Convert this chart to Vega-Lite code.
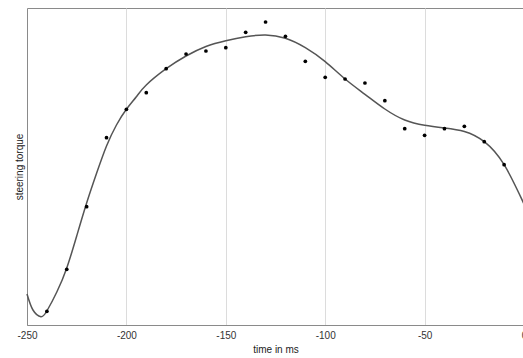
{
  "$schema": "https://vega.github.io/schema/vega-lite/v6.json",
  "width": 497,
  "height": 317,
  "padding": {"left": 14, "top": 8, "right": 0, "bottom": 0},
  "config": {
    "font": "Liberation Sans",
    "view": {"stroke": "#8a8a8a", "strokeWidth": 1},
    "axis": {"labelFont": "Liberation Sans", "titleFont": "Liberation Sans", "labelFontSize": 10, "titleFontSize": 10, "titleFontWeight": "normal", "labelColor": "#333", "titleColor": "#222", "domainColor": "#8a8a8a"}
  },
  "datasets": {
    "pts": [
      {"t": -240, "v": 13.7}, {"t": -230, "v": 55.7}, {"t": -220, "v": 118.3}, {"t": -210, "v": 187.3},
      {"t": -200, "v": 215.7}, {"t": -190, "v": 232.3}, {"t": -180, "v": 256.3}, {"t": -170, "v": 271},
      {"t": -160, "v": 274}, {"t": -150, "v": 277.3}, {"t": -140, "v": 292.7}, {"t": -130, "v": 303},
      {"t": -120, "v": 288.7}, {"t": -110, "v": 263.7}, {"t": -100, "v": 247.7}, {"t": -90, "v": 246},
      {"t": -80, "v": 242}, {"t": -70, "v": 224.3}, {"t": -60, "v": 196.3}, {"t": -50, "v": 189.7},
      {"t": -40, "v": 196.3}, {"t": -30, "v": 198.7}, {"t": -20, "v": 183.3}, {"t": -10, "v": 160.3}
    ],
    "fit": [
      {"t": -250, "v": 31}, {"t": -247, "v": 15}, {"t": -243, "v": 8.3}, {"t": -240, "v": 14},
      {"t": -235, "v": 33}, {"t": -230, "v": 57}, {"t": -225, "v": 89}, {"t": -220, "v": 122},
      {"t": -215, "v": 151.7}, {"t": -210, "v": 179}, {"t": -205, "v": 200}, {"t": -200, "v": 215.7},
      {"t": -195, "v": 228.3}, {"t": -190, "v": 240}, {"t": -180, "v": 256.3}, {"t": -170, "v": 269}, {"t": -160, "v": 278.5},
      {"t": -150, "v": 284.3}, {"t": -140, "v": 288.3}, {"t": -130, "v": 290}, {"t": -120, "v": 286.7},
      {"t": -110, "v": 277.3}, {"t": -100, "v": 263.3}, {"t": -90, "v": 246}, {"t": -80, "v": 230.7},
      {"t": -70, "v": 216}, {"t": -60, "v": 205}, {"t": -50, "v": 199.7}, {"t": -40, "v": 197},
      {"t": -30, "v": 193.5}, {"t": -20, "v": 183.3}, {"t": -10, "v": 160.3}, {"t": 0, "v": 121}
    ]
  },
  "layer": [
    {
      "data": {"name": "fit"},
      "mark": {"type": "line", "color": "#555555", "strokeWidth": 1.5, "interpolate": "natural"},
      "encoding": {
        "x": {"field": "t", "type": "quantitative", "scale": {"domain": [-250, 0], "nice": false},
              "axis": {"values": [-250, -200, -150, -100, -50, 0], "labelExpr": "'' + datum.value", "title": "time in ms", "grid": true, "gridColor": "#dcdcdc", "ticks": false, "labelPadding": 5, "titlePadding": 4, "labelFlush": false}},
        "y": {"field": "v", "type": "quantitative", "scale": {"domain": [0, 317], "nice": false, "zero": false},
              "axis": {"title": "steering torque", "labels": false, "ticks": false, "grid": false, "titlePadding": 3}}
      }
    },
    {
      "data": {"name": "pts"},
      "mark": {"type": "circle", "color": "#000000", "size": 14, "opacity": 1},
      "encoding": {
        "x": {"field": "t", "type": "quantitative"},
        "y": {"field": "v", "type": "quantitative"}
      }
    }
  ]
}
